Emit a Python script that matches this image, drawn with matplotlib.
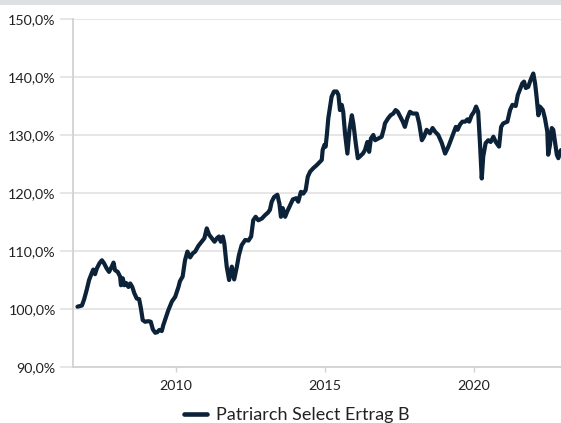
import matplotlib
matplotlib.use("Agg")
import matplotlib.pyplot as plt
from matplotlib.patches import Rectangle
from matplotlib.ticker import FuncFormatter

plt.rcParams['font.family'] = ['Lato', 'DejaVu Sans']

series_name = "Patriarch Select Ertrag B"

years = [
    2006.69, 2006.84, 2006.91, 2007.00, 2007.08, 2007.17, 2007.22, 2007.28, 2007.34, 2007.43,
    2007.51, 2007.58, 2007.67, 2007.75, 2007.84, 2007.90, 2007.95, 2008.04, 2008.12, 2008.15,
    2008.21, 2008.26, 2008.32, 2008.40, 2008.46, 2008.53, 2008.60, 2008.68, 2008.76, 2008.82,
    2008.88, 2008.96, 2009.07, 2009.15, 2009.22, 2009.30, 2009.37, 2009.44, 2009.52, 2009.57,
    2009.65, 2009.74, 2009.86, 2009.97, 2010.08, 2010.13, 2010.22, 2010.30, 2010.38, 2010.47,
    2010.56, 2010.64, 2010.75, 2010.86, 2010.95, 2011.03, 2011.11, 2011.20, 2011.29, 2011.37,
    2011.44, 2011.50, 2011.57, 2011.62, 2011.70, 2011.78, 2011.87, 2011.95, 2012.04, 2012.11,
    2012.20, 2012.32, 2012.43, 2012.52, 2012.59, 2012.67, 2012.76, 2012.88, 2012.99, 2013.08,
    2013.15, 2013.21, 2013.29, 2013.40, 2013.47, 2013.52, 2013.58, 2013.66, 2013.73, 2013.83,
    2013.92, 2014.03, 2014.10, 2014.19, 2014.27, 2014.35, 2014.42, 2014.50, 2014.61, 2014.72,
    2014.83, 2014.89, 2014.92, 2014.98, 2015.02, 2015.06, 2015.11, 2015.17, 2015.22, 2015.30,
    2015.39, 2015.45, 2015.50, 2015.56, 2015.61, 2015.67, 2015.75, 2015.82, 2015.90, 2015.95,
    2016.03, 2016.10, 2016.17, 2016.27, 2016.34, 2016.42, 2016.48, 2016.54, 2016.62, 2016.68,
    2016.79, 2016.90, 2016.98, 2017.01, 2017.12, 2017.20, 2017.29, 2017.37, 2017.44, 2017.52,
    2017.61, 2017.68, 2017.76, 2017.85, 2017.94, 2018.08, 2018.16, 2018.25, 2018.32, 2018.41,
    2018.52, 2018.61, 2018.69, 2018.80, 2018.92, 2019.03, 2019.14, 2019.22, 2019.31, 2019.39,
    2019.45, 2019.53, 2019.61, 2019.70, 2019.78, 2019.84, 2019.92, 2020.00, 2020.07, 2020.14,
    2020.20, 2020.26, 2020.31, 2020.39, 2020.48, 2020.56, 2020.65, 2020.73, 2020.84, 2020.91,
    2020.98, 2021.12, 2021.21, 2021.29, 2021.40, 2021.47, 2021.54, 2021.62, 2021.68, 2021.74,
    2021.82, 2021.90, 2021.99, 2022.05, 2022.10, 2022.16, 2022.21, 2022.31, 2022.38, 2022.46,
    2022.49, 2022.55, 2022.61, 2022.66, 2022.72, 2022.78, 2022.83, 2022.89, 2022.92,
]

values = [
    100.4, 100.6, 101.6, 103.3, 105.0, 106.2, 106.8, 106.0, 107.0, 107.9,
    108.4, 107.9, 107.0, 106.4, 107.3, 108.0, 106.7, 106.4, 105.6, 104.1,
    105.3, 104.1, 104.5, 103.8, 104.4, 103.8, 102.7, 101.8, 101.7, 100.1,
    98.1, 97.8, 97.9, 97.8, 96.5, 95.9, 96.0, 96.4, 96.2, 97.2,
    98.4, 99.8, 101.3, 102.1, 103.8, 104.8, 105.6, 108.4, 109.9, 108.9,
    109.6, 109.9, 110.9, 111.6, 112.2, 113.9, 112.8, 112.2, 111.6, 112.2,
    112.5, 111.6, 112.5, 111.3, 107.3, 105.0, 107.3, 105.1, 107.3, 109.3,
    111.0, 111.9, 111.8, 112.5, 115.3, 115.9, 115.3, 115.6, 116.2, 116.6,
    117.1, 118.5, 119.3, 119.7, 118.1, 115.9, 117.4, 115.9, 116.8, 117.9,
    118.9, 119.1, 118.5, 120.2, 119.9, 120.5, 122.8, 123.7, 124.3, 124.8,
    125.4, 125.7, 127.4, 128.3, 128.0, 130.0, 132.9, 134.9, 136.6, 137.5,
    137.5, 136.9, 134.3, 135.2, 134.0, 130.3, 126.8, 130.9, 133.4, 132.0,
    128.6, 126.0, 126.3, 126.8, 127.4, 128.8, 127.1, 129.4, 130.0, 129.1,
    129.4, 129.7, 131.2, 132.0, 132.9, 133.4, 133.7, 134.3, 134.0, 133.2,
    132.3, 131.4, 132.9, 134.0, 133.7, 133.7, 132.0, 129.1, 129.7, 130.9,
    130.3, 131.2, 130.6, 130.0, 128.6, 126.8, 128.0, 129.1, 130.3, 131.4,
    130.9, 131.8, 132.3, 132.3, 132.7, 132.3, 133.4, 134.0, 134.9, 134.0,
    128.6, 122.5, 126.3, 128.6, 129.1, 128.8, 129.7, 128.8, 128.0, 131.4,
    132.0, 132.3, 134.3, 135.2, 135.0, 136.9, 137.8, 138.9, 139.2, 138.1,
    138.3, 139.5, 140.6, 138.9, 136.6, 133.4, 134.9, 134.3, 132.9, 130.6,
    126.6, 128.3, 131.2, 130.9, 128.8, 126.6, 126.0, 127.1, 127.4,
]

y_ticks = [90, 100, 110, 120, 130, 140, 150]
x_ticks = [2010, 2015, 2020]

line_color = '#0c2238'
grid_color = '#e4e4e4'
axis_color = '#d2d2d2'
text_color = '#222222'

fig = plt.figure(figsize=(5.61, 4.23), dpi=100)
fig.patches.append(Rectangle((0, 1 - 5 / 423), 1, 5 / 423, transform=fig.transFigure,
                             facecolor='#dce0e3', edgecolor='none'))

ax = fig.add_axes([73 / 561, (423 - 367) / 423, 1 - 73 / 561, (367 - 19) / 423])
ax.plot(years, values, color=line_color, lw=3.0, solid_joinstyle='round',
        solid_capstyle='round', label=series_name, clip_on=True)

ax.set_xlim(2006.54, 2022.92)
ax.set_ylim(90, 150)
ax.set_yticks(y_ticks)
ax.set_xticks(x_ticks)
ax.yaxis.set_major_formatter(FuncFormatter(lambda v, p: f"{v:.1f}%".replace('.', ',')))
ax.grid(axis='y', color=grid_color, lw=1.3)
ax.set_axisbelow(True)
for s in ['top', 'right']:
    ax.spines[s].set_visible(False)
ax.spines['left'].set_color(axis_color)
ax.spines['left'].set_linewidth(1.3)
ax.spines['bottom'].set_color(axis_color)
ax.spines['bottom'].set_linewidth(1.3)
ax.tick_params(axis='y', length=9.4, width=1.3, color=grid_color, pad=3,
               labelsize=10.3, labelcolor=text_color)
ax.tick_params(axis='x', length=3.6, width=1.0, color=axis_color, pad=6,
               labelsize=10.3, labelcolor=text_color)

leg = fig.legend(loc='center', bbox_to_anchor=(296.5 / 561, 1 - 415 / 423), frameon=False,
                 fontsize=13, handlelength=1.3, handletextpad=0.45,
                 labelcolor=text_color)
for h in leg.get_lines():
    h.set_linewidth(3.3)

fig.savefig('out.png', dpi=100)
